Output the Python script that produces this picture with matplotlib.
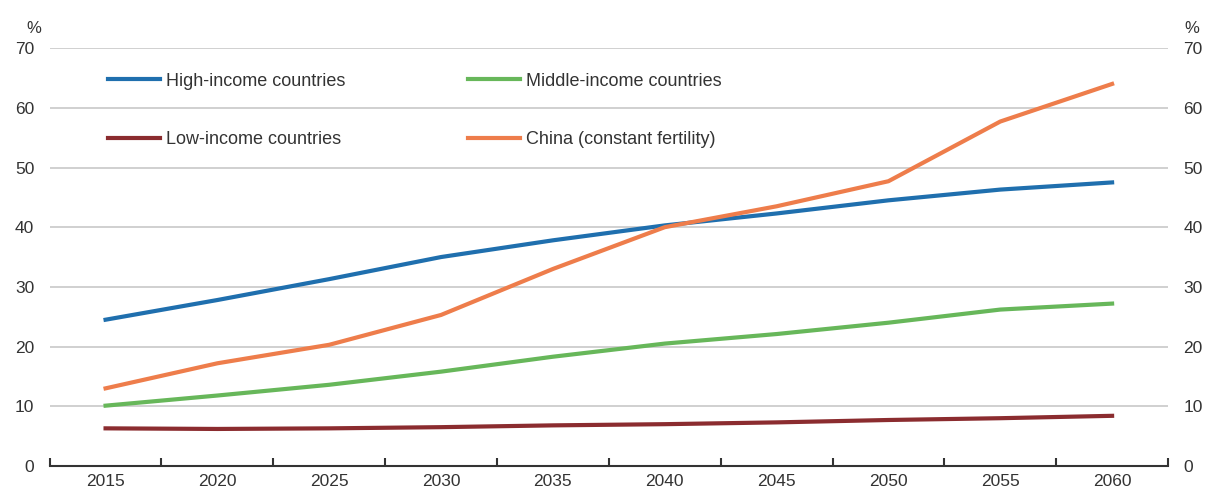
import matplotlib.pyplot as plt
import numpy as np
from matplotlib import font_manager

years = ["2015", "2020", "2025", "2030", "2035", "2040", "2045", "2050", "2055", "2060"]
high_income = [24.5, 27.8, 31.3, 35.0, 37.8, 40.3, 42.3, 44.5, 46.3, 47.5]
middle_income = [10.1, 11.8, 13.6, 15.8, 18.3, 20.5, 22.1, 24.0, 26.2, 27.2]
low_income = [6.3, 6.2, 6.3, 6.5, 6.8, 7.0, 7.3, 7.7, 8.0, 8.4]
china = [13.0, 17.2, 20.3, 25.3, 33.0, 40.0, 43.5, 47.7, 57.7, 64.0]

names = [f.name for f in font_manager.fontManager.ttflist]
fam = "Liberation Sans Narrow" if "Liberation Sans Narrow" in names else "Liberation Sans"
plt.rcParams['font.family'] = [fam, 'DejaVu Sans']

fig = plt.figure(figsize=(12.11, 4.91), dpi=100)
ax = fig.add_axes([0.041, 0.051, 0.9235, 0.851])

x = np.arange(len(years))
lw = 3
ax.plot(x, high_income, color='#1f6fae', lw=lw, label='High-income countries')
ax.plot(x, low_income, color='#8b2c2f', lw=lw, label='Low-income countries')
ax.plot(x, middle_income, color='#67b75a', lw=lw, label='Middle-income countries')
ax.plot(x, china, color='#ee7d4b', lw=lw, label='China (constant fertility)')

ax.set_xlim(-0.5, 9.5)
ax.set_ylim(0, 70)
ax.set_yticks(range(0, 71, 10))
ax.grid(axis='y', color='#c8c8c8', lw=1.2)
ax.set_axisbelow(True)
ax.set_xticks(x)
ax.set_xticklabels(years)
ax.set_xticks(np.arange(-0.5, 10, 1), minor=True)
ax.tick_params(axis='x', which='major', length=0, labelsize=12.5, colors='#333333', pad=6)
ax.tick_params(axis='x', which='minor', direction='in', length=6, width=1.5, color='#333333')
ax.tick_params(axis='y', length=0, labelsize=12.5, colors='#333333', pad=11)
for s in ['top', 'right', 'left']:
    ax.spines[s].set_visible(False)
ax.spines['bottom'].set_color('#333333')
ax.spines['bottom'].set_linewidth(1.5)

ax2 = ax.twinx()
ax2.set_ylim(0, 70)
ax2.set_yticks(range(0, 71, 10))
ax2.tick_params(axis='y', length=0, labelsize=12.5, colors='#333333', pad=11)
for s in ax2.spines.values():
    s.set_visible(False)

ax.text(-0.014, 1.035, '%', transform=ax.transAxes, fontsize=12, color='#333333', ha='center')
ax.text(1.021, 1.035, '%', transform=ax.transAxes, fontsize=12, color='#333333', ha='center')

leg = ax.legend(ncol=2, loc='upper left', bbox_to_anchor=(0.0376, 0.98), frameon=False,
                fontsize=13, handlelength=2.9, handletextpad=0.3, columnspacing=6.8,
                labelspacing=2.3)
for t in leg.get_texts():
    t.set_color('#333333')

fig.savefig('out.png', dpi=100)
